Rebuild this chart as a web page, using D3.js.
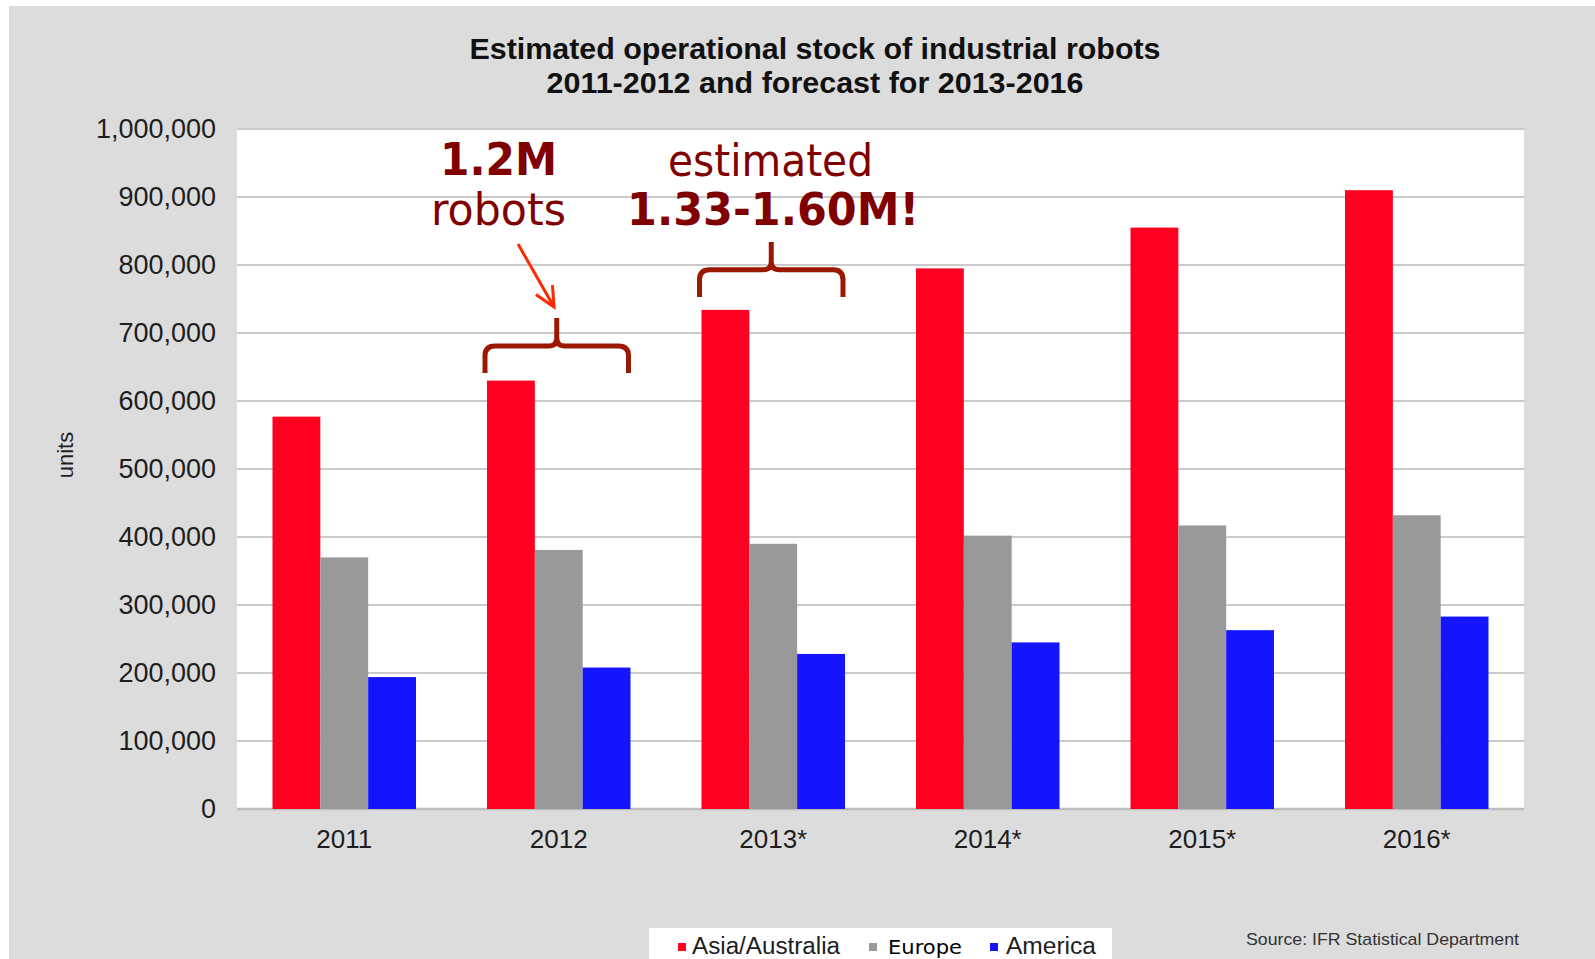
<!DOCTYPE html>
<html>
<head>
<meta charset="utf-8">
<script src="https://cdn.jsdelivr.net/npm/d3@7"></script>
<style>
  html, body { margin: 0; padding: 0; background: #ffffff; }
  svg { display: block; }
</style>
</head>
<body>
<svg id="chart" width="1595" height="959"></svg>
<script>
// ---------- data ----------
const categories = ["2011", "2012", "2013*", "2014*", "2015*", "2016*"];
const seriesNames = ["Asia/Australia", "Europe", "America"];
const asia    = [577000, 630000, 734000, 795000, 855000, 910000];
const europe  = [370000, 381000, 390000, 402000, 417000, 432000];
const america = [194000, 208000, 228000, 245000, 263000, 283000];
const seriesColors = ["#ff0020", "#999999", "#1414ff"];
const yTicks = [0, 100000, 200000, 300000, 400000, 500000, 600000, 700000, 800000, 900000, 1000000];
const titleLines = ["Estimated operational stock of industrial robots", "2011-2012 and forecast for 2013-2016"];
const yLabel = "units";
const sourceText = "Source: IFR Statistical Department";
// annotation braces: category, and value levels (bottom of ends, horizontal, tip)
const braceCats   = ["2012", "2013*"];
const braceBottom = [641000, 753000];
const braceMid    = [681000, 793000];
const braceTip    = [722000, 834000];

const seriesValues = [asia, europe, america];

// ---------- layout ----------
const svg = d3.select("#chart");
const W = 1595, H = 959;
const plot = { left: 237, right: 1524, top: 129, bottom: 809 };

svg.append("rect").attr("x", 0).attr("y", 0).attr("width", W).attr("height", H).attr("fill", "#ffffff");
svg.append("rect").attr("x", 9).attr("y", 6).attr("width", W - 9).attr("height", H - 6).attr("fill", "#dcdcdc");
svg.append("rect").attr("x", plot.left).attr("y", plot.top)
   .attr("width", plot.right - plot.left).attr("height", plot.bottom - plot.top).attr("fill", "#ffffff");

const x0 = d3.scaleBand().domain(categories).range([plot.left, plot.right])
  .paddingInner(0.331).paddingOuter(0.1655);
const x1 = d3.scaleBand().domain(seriesNames).range([0, x0.bandwidth()]).padding(0);
const y = d3.scaleLinear().domain([0, 1000000]).range([plot.bottom, plot.top]);

// gridlines
svg.append("g").selectAll("line").data(yTicks).join("line")
  .attr("x1", plot.left).attr("x2", plot.right)
  .attr("y1", d => y(d)).attr("y2", d => y(d))
  .attr("stroke", d => d === 0 ? "#bdbdbd" : "#cacaca")
  .attr("stroke-width", d => d === 0 ? 2.5 : 2);

// bars
const groups = svg.append("g").selectAll("g").data(categories).join("g")
  .attr("transform", d => `translate(${x0(d)},0)`);
groups.selectAll("rect")
  .data((c, i) => seriesNames.map((s, j) => ({ s, j, v: seriesValues[j][i] })))
  .join("rect")
  .attr("x", d => x1(d.s))
  .attr("width", x1.bandwidth())
  .attr("y", d => y(d.v))
  .attr("height", d => y(0) - y(d.v))
  .attr("fill", d => seriesColors[d.j]);

// y axis
const yAxis = svg.append("g").attr("transform", `translate(${plot.left},0)`)
  .call(d3.axisLeft(y).tickValues(yTicks).tickFormat(d3.format(",")).tickSize(0).tickPadding(21));
yAxis.select(".domain").remove();
yAxis.selectAll("text").attr("font-family", "'Liberation Sans', Arial, sans-serif")
  .attr("font-size", 27).attr("fill", "#1e1e1e");

// x axis
const xAxis = svg.append("g").attr("transform", `translate(0,${plot.bottom})`)
  .call(d3.axisBottom(x0).tickSize(0).tickPadding(21));
xAxis.select(".domain").remove();
xAxis.selectAll("text").attr("font-family", "'Liberation Sans', Arial, sans-serif")
  .attr("font-size", 26).attr("fill", "#1e1e1e");

// y label
svg.append("text").attr("transform", "translate(73,455) rotate(-90)")
  .attr("text-anchor", "middle")
  .attr("font-family", "'Liberation Sans', Arial, sans-serif").attr("font-size", 22)
  .attr("fill", "#1e1e1e").text(yLabel);

// title
const titleBase = [59, 93], titleLen = [691, 537];
titleLines.forEach((t, i) => {
  svg.append("text").attr("x", 815).attr("y", titleBase[i])
    .attr("text-anchor", "middle")
    .attr("font-family", "'Liberation Sans Narrow', 'Liberation Sans', Arial, sans-serif")
    .attr("font-weight", "bold").attr("font-size", 29).attr("fill", "#111111")
    .attr("textLength", titleLen[i]).attr("lengthAdjust", "spacingAndGlyphs")
    .text(t);
});

// legend
svg.append("rect").attr("x", 649).attr("y", 928).attr("width", 463).attr("height", 40).attr("fill", "#ffffff");
const legSq = [678, 869, 990], legTx = [692, 888, 1006], legLen = [148, 74, 90];
seriesNames.forEach((s, i) => {
  svg.append("rect").attr("x", legSq[i]).attr("y", 943).attr("width", 8).attr("height", 8)
    .attr("fill", seriesColors[i]);
  const t = svg.append("text").attr("x", legTx[i]).attr("y", 954)
    .attr("textLength", legLen[i]).attr("lengthAdjust", "spacingAndGlyphs")
    .text(s);
  if (i === 1) {
    t.attr("font-family", "'DejaVu Sans', Verdana, sans-serif").attr("font-size", 20).attr("fill", "#000000");
  } else {
    t.attr("font-family", "'Liberation Sans Narrow', 'Liberation Sans', Arial, sans-serif")
     .attr("font-size", 23).attr("fill", "#1e1e1e");
  }
});

// source
svg.append("text").attr("x", 1246).attr("y", 945)
  .attr("font-family", "'Liberation Sans Narrow', 'Liberation Sans', Arial, sans-serif")
  .attr("font-size", 17).attr("fill", "#333333")
  .attr("textLength", 273).attr("lengthAdjust", "spacingAndGlyphs")
  .text(sourceText);

// annotations: text
const annRed = "#800000";
const ann = [
  { t: "1.2M", x: 498.5, y: 175, w: 117, b: true },
  { t: "robots", x: 498.5, y: 225, w: 135, b: false },
  { t: "estimated", x: 770.5, y: 176, w: 205, b: false },
  { t: "1.33-1.60M!", x: 773, y: 225, w: 292, b: true }
];
ann.forEach(a => {
  svg.append("text").attr("x", a.x).attr("y", a.y).attr("text-anchor", "middle")
    .attr("font-family", "'DejaVu Sans', Verdana, Tahoma, sans-serif")
    .attr("font-size", 44).attr("font-weight", a.b ? "bold" : "normal")
    .attr("fill", annRed)
    .attr("textLength", a.w).attr("lengthAdjust", "spacingAndGlyphs")
    .text(a.t);
});

// braces
braceCats.forEach((c, i) => {
  const xL = x0(c) + x1(seriesNames[0]) - 2;
  const xR = x0(c) + x1(seriesNames[2]) + x1.bandwidth() - 2;
  const cx = (xL + xR) / 2;
  const yB = y(braceBottom[i]), yH = y(braceMid[i]), yT = y(braceTip[i]);
  const r = 10, r2 = 8;
  const p = d3.path();
  p.moveTo(xL, yB); p.lineTo(xL, yH + r); p.quadraticCurveTo(xL, yH, xL + r, yH);
  p.lineTo(cx - r2, yH); p.quadraticCurveTo(cx, yH, cx, yH - r2); p.lineTo(cx, yT);
  p.moveTo(xR, yB); p.lineTo(xR, yH + r); p.quadraticCurveTo(xR, yH, xR - r, yH);
  p.lineTo(cx + r2, yH); p.quadraticCurveTo(cx, yH, cx, yH - r2);
  svg.append("path").attr("d", p.toString()).attr("fill", "none")
    .attr("stroke", "#9a1800").attr("stroke-width", 5);
});

// arrow
const ax1 = 518, ay1 = 244, ax2 = 554, ay2 = 307;
svg.append("line").attr("x1", ax1).attr("y1", ay1).attr("x2", ax2).attr("y2", ay2)
  .attr("stroke", "#ff2a00").attr("stroke-width", 3);
const ang = Math.atan2(ay2 - ay1, ax2 - ax1), L = 22, spread = 0.45;
svg.append("path")
  .attr("d", `M${ax2 - L * Math.cos(ang - spread)},${ay2 - L * Math.sin(ang - spread)} L${ax2},${ay2} L${ax2 - L * Math.cos(ang + spread)},${ay2 - L * Math.sin(ang + spread)}`)
  .attr("fill", "none").attr("stroke", "#ff2a00").attr("stroke-width", 3);
</script>
</body>
</html>
